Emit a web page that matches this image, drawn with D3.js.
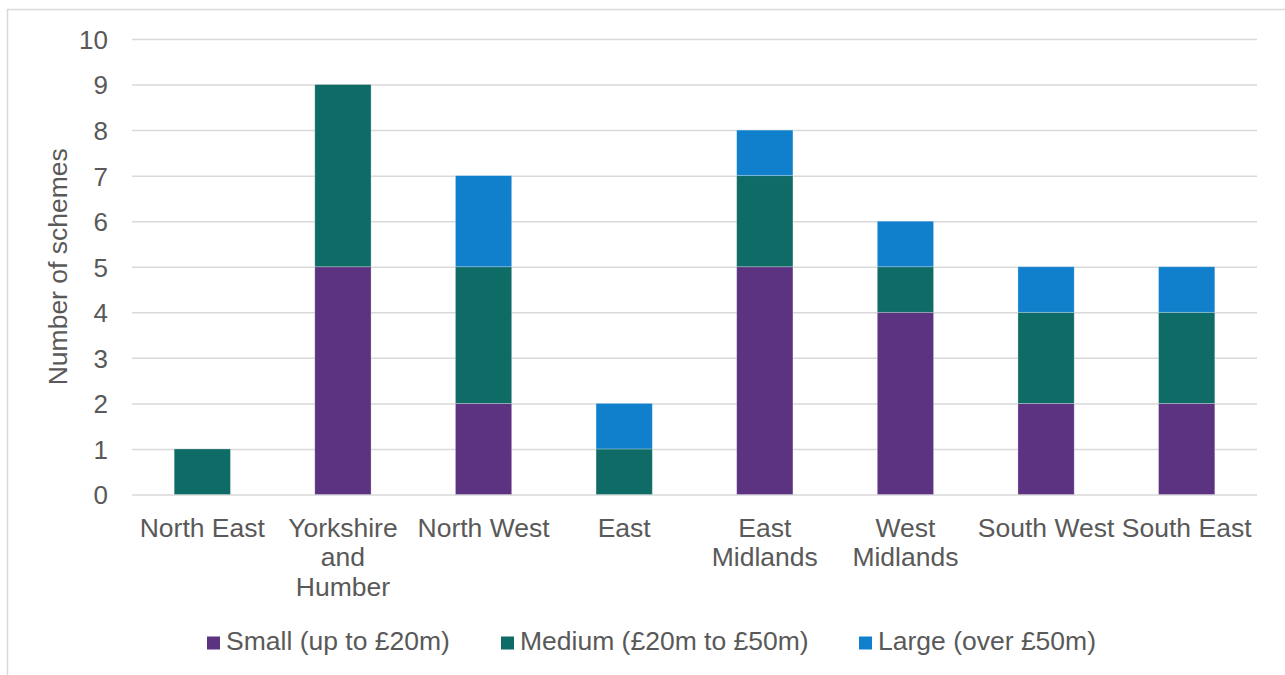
<!DOCTYPE html>
<html>
<head>
<meta charset="utf-8">
<script src="https://cdn.jsdelivr.net/npm/d3@7"></script>
<style>
  html, body { margin: 0; padding: 0; background: #fff; }
  svg { display: block; }
  text { font-family: "Liberation Sans", Arial, sans-serif; fill: #595959; }
</style>
</head>
<body>
<svg id="chart" width="1285" height="675"></svg>
<script>
// Regions and scheme counts by size band
const regions = ["North East", "Yorkshire and Humber", "North West", "East", "East Midlands", "West Midlands", "South West", "South East"];
const regionLines = [["North East"], ["Yorkshire", "and", "Humber"], ["North West"], ["East"], ["East", "Midlands"], ["West", "Midlands"], ["South West"], ["South East"]];
const small  = [0, 5, 2, 0, 5, 4, 2, 2];
const medium = [1, 4, 3, 1, 2, 1, 2, 2];
const large  = [0, 0, 2, 1, 1, 1, 1, 1];
const seriesNames = ["Small (up to £20m)", "Medium (£20m to £50m)", "Large (over £50m)"];
const seriesColors = ["#5C3381", "#0F6B66", "#1180CC"];
const yTicks = [0, 1, 2, 3, 4, 5, 6, 7, 8, 9, 10];
const yTitle = "Number of schemes";

const svg = d3.select("#chart");
const fontSize = 26.5;

// outer chart frame
svg.append("rect")
  .attr("x", 7.5).attr("y", 9.5)
  .attr("width", 1300).attr("height", 700)
  .attr("fill", "none").attr("stroke", "#d9d9d9").attr("stroke-width", 1.5);

const plot = { left: 132, right: 1257, top: 39, bottom: 494.5 };

const x = d3.scaleBand().domain(regions).range([plot.left, plot.right]).paddingInner(0.6).paddingOuter(0.3);
const y = d3.scaleLinear().domain([0, 10]).range([plot.bottom, plot.top]);

// gridlines + y labels via axis
const yAxis = d3.axisLeft(y).tickValues(yTicks).tickSize(-(plot.right - plot.left)).tickPadding(24).tickFormat(d3.format("d"));
const gy = svg.append("g").attr("transform", `translate(${plot.left},0)`).call(yAxis);
gy.select(".domain").remove();
gy.selectAll(".tick line").attr("stroke", "#d9d9d9").attr("stroke-width", 1.5);
gy.selectAll(".tick text")
  .attr("font-size", 26)
  .attr("font-family", "Liberation Sans, Arial, sans-serif")
  .attr("fill", "#595959")
  .attr("dy", "0.36em");

// stacked bars
const rows = regions.map((r, i) => ({ region: r, s0: small[i], s1: medium[i], s2: large[i] }));
const stack = d3.stack().keys(["s0", "s1", "s2"]);
const layers = stack(rows);

svg.append("g").selectAll("g")
  .data(layers)
  .join("g")
  .attr("fill", (d, i) => seriesColors[i])
  .selectAll("rect")
  .data(d => d.filter(v => v[1] - v[0] > 0))
  .join("rect")
  .attr("x", d => x(d.data.region))
  .attr("width", x.bandwidth())
  .attr("y", d => y(d[1]))
  .attr("height", d => y(d[0]) - y(d[1]))
  .attr("stroke", "rgba(255,255,255,0.35)")
  .attr("stroke-width", 0.75);

// category labels
const cat = svg.append("g");
regions.forEach((r, i) => {
  const cx = x(r) + x.bandwidth() / 2;
  const t = cat.append("text")
    .attr("x", cx)
    .attr("y", 536.5)
    .attr("text-anchor", "middle")
    .attr("font-size", fontSize);
  regionLines[i].forEach((line, j) => {
    t.append("tspan").attr("x", cx).attr("dy", j === 0 ? 0 : 29.5).text(line);
  });
});

// y axis title
svg.append("text")
  .attr("transform", `translate(67,${(plot.top + plot.bottom) / 2}) rotate(-90)`)
  .attr("text-anchor", "middle")
  .attr("font-size", fontSize)
  .text(yTitle);

// legend
const legendX = [207, 501, 859];
const legend = svg.append("g");
seriesNames.forEach((name, i) => {
  legend.append("rect")
    .attr("x", legendX[i]).attr("y", 636.5)
    .attr("width", 13).attr("height", 13)
    .attr("fill", seriesColors[i]);
  legend.append("text")
    .attr("x", legendX[i] + 19).attr("y", 649.5)
    .attr("font-size", fontSize)
    .text(name);
});
</script>
</body>
</html>
